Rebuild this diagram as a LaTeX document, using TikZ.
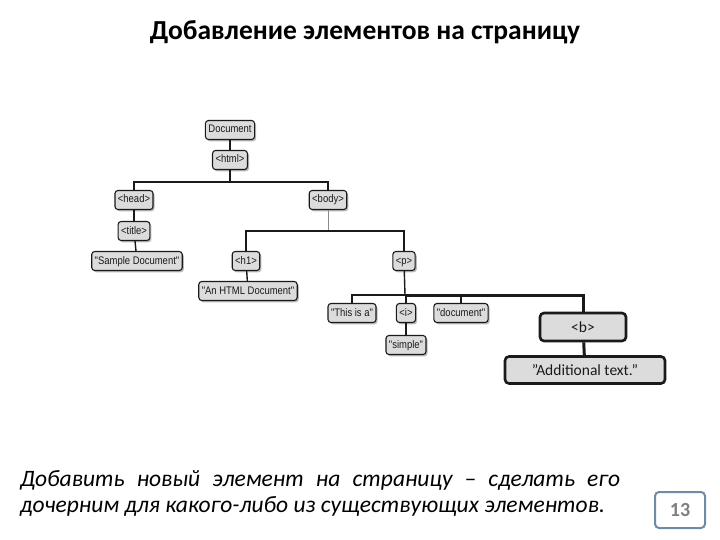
\documentclass[tikz,border=0pt]{standalone}
\usepackage{fontspec}
\setmainfont{Carlito}
\newfontfamily\domfont[FakeStretch=0.86]{Liberation Sans}
\usetikzlibrary{shadows}
\definecolor{domInk}{HTML}{1A1A1A}
\definecolor{domFill}{HTML}{DCDCDC}
\definecolor{domShade}{HTML}{8E8E8E}
\definecolor{domGuide}{HTML}{8A8A8A}
\definecolor{pgFrame}{HTML}{6F8AA5}
\definecolor{pgText}{HTML}{7F7F7F}
\tikzset{
  dom node/.style={
    draw=domInk, fill=domFill, line width=1.1pt, rounded corners=3pt,
    minimum height=19pt, inner xsep=3pt, inner ysep=0pt,
    text height=8pt, text depth=2pt,
    font=\domfont\fontsize{11}{12}\selectfont, text=domInk,
    drop shadow={shadow xshift=1.6pt, shadow yshift=-1.8pt, fill=domShade, opacity=.6}
  },
  dom new/.style={
    draw=domInk, fill=domFill, line width=2.6pt, rounded corners=4pt,
    inner ysep=0pt, font=\fontsize{15.5}{17}\selectfont, text=domInk
  },
  dom link/.style={draw=domInk, line width=1.4pt},
  dom link soft/.style={draw=domGuide, line width=1pt},
  dom link new/.style={draw=domInk, line width=3pt},
  pg title/.style={font=\bfseries\fontsize{27.5}{32}\selectfont, text=black},
  pg note/.style={font=\itshape\fontsize{23.5}{26}\selectfont, text=black,
    text width=600pt, align=justify, inner sep=0pt, anchor=north west},
  pg number/.style={draw=pgFrame, line width=2pt, rounded corners=4pt,
    minimum width=50pt, minimum height=36pt,
    font=\bfseries\fontsize{20}{22}\selectfont, text=pgText}
}
\begin{document}
\begin{tikzpicture}[x=1pt,y=-1pt]
  \path[fill=white, use as bounding box] (0,0) rectangle (720,540);

  \node[pg title] (title) at (365,32) {Добавление элементов на страницу};

  % existing tree
  \node[dom node] (doc) at (230,130) {Document};
  \node[dom node] (html) at (230,160) {<html>};
  \node[dom node] (head) at (134,200) {<head>};
  \node[dom node] (body) at (328,200) {<body>};
  \node[dom node] (title tag) at (134,231) {<title>};
  \node[dom node] (sample) at (137,261) {"Sample Document"};
  \node[dom node] (h1) at (246,261) {<h1>};
  \node[dom node] (para) at (404,261) {<p>};
  \node[dom node] (anhtml) at (248,291) {"An HTML Document"};
  \node[dom node] (thisis) at (352,313) {"This is a"};
  \node[dom node] (itag) at (406,313) {<i>};
  \node[dom node] (docword) at (461,313) {"document"};
  \node[dom node] (simple) at (406,345) {"simple"};

  % new element
  \node[dom new, minimum width=86pt, minimum height=28pt] (btag) at (583,327) {<b>};
  \node[dom new, minimum width=160pt, minimum height=27pt] (addtext) at (585,370) {\char34 Additional text.”};

  \coordinate (jHtml) at (230,182);
  \coordinate (jBody) at (328,231);
  \coordinate (jPara) at (405,295);

  \draw[dom link] (doc) -- (html);
  \draw[dom link] (html) -- (jHtml);
  \draw[dom link] (head.north) |- (jHtml) -| (body.north);
  \draw[dom link] (head) -- (title tag);
  \draw[dom link] (title tag) -- (sample);
  \draw[dom link soft] (body) -- (jBody);
  \draw[dom link] (h1.north) |- (jBody) -| (para.north);
  \draw[dom link] (h1) -- (anhtml);
  \draw[dom link] (para) -- (jPara);
  \draw[dom link] (thisis.north) |- (jPara);
  \draw[dom link] (itag.north) -- (itag.north |- jPara);
  \draw[dom link] (docword.north) -- (docword.north |- jPara);
  \draw[dom link] (itag) -- (simple);
  \draw[dom link new] (jPara) -| (btag.north);
  \draw[dom link new] (btag) -- (addtext);

  \node[pg note] (note) at (20,470) {Добавить новый элемент на страницу -- сделать его дочерним для какого-либо из существующих элементов.};
  \node[pg number] (pagenum) at (680,510) {13};
\end{tikzpicture}
\end{document}
